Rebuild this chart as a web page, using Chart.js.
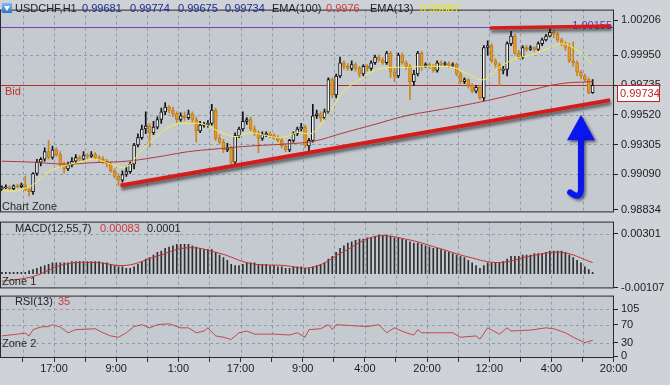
<!DOCTYPE html>
<html><head><meta charset="utf-8">
<script src="https://cdn.jsdelivr.net/npm/chart.js@4.4.0/dist/chart.umd.min.js"></script>
<style>
html,body{margin:0;padding:0;}
body{width:670px;height:385px;background:#cfd3d8;position:relative;overflow:hidden;font-family:"Liberation Sans",Arial,sans-serif;}
canvas{position:absolute;left:0;}
.t{position:absolute;font-size:11px;line-height:12px;white-space:nowrap;color:#1e1e1e;}
</style></head><body>
<canvas id="cMain" width="670" height="222" style="top:0"></canvas>
<canvas id="cMacd" width="670" height="86" style="top:212px"></canvas>
<canvas id="cRsi" width="670" height="99" style="top:286px"></canvas>

<div style="position:absolute;left:2px;top:3px;width:10px;height:10px;background:linear-gradient(#7cbcf2,#2a74cc);"></div>
<div style="position:absolute;left:4px;top:6px;width:0;height:0;border-left:3px solid transparent;border-right:3px solid transparent;border-top:5px solid #fff;"></div>
<div class="t" style="left:15px;top:2px;">USDCHF,H1</div>
<div class="t" style="left:82px;top:2px;color:#1c2a8f;">0.99681</div>
<div class="t" style="left:130px;top:2px;color:#1c2a8f;">0.99774</div>
<div class="t" style="left:178px;top:2px;color:#1c2a8f;">0.99675</div>
<div class="t" style="left:225px;top:2px;color:#1c2a8f;">0.99734</div>
<div class="t" style="left:272px;top:2px;">EMA(100)</div>
<div class="t" style="left:326px;top:2px;color:#d03a3a;">0.9976</div>
<div class="t" style="left:370px;top:2px;">EMA(13)</div>
<div class="t" style="left:420px;top:2px;color:#e6e41c;">0.99887</div>
<div class="t" style="left:5px;top:85px;color:#c03030;">Bid</div>
<div class="t" style="left:2px;top:200px;color:#2a2a2a;">Chart Zone</div>
<div class="t" style="left:15px;top:222px;">MACD(12,55,7)</div>
<div class="t" style="left:100px;top:222px;color:#c83c3c;">0.00083</div>
<div class="t" style="left:147px;top:222px;">0.0001</div>
<div class="t" style="left:2px;top:275px;color:#2a2a2a;">Zone 1</div>
<div class="t" style="left:15px;top:295px;">RSI(13)</div>
<div class="t" style="left:58px;top:295px;color:#c83c3c;">35</div>
<div class="t" style="left:2px;top:337px;color:#2a2a2a;">Zone 2</div>

<script>
// ---------- DATA ----------
const openP = [0.98985,0.98992,0.98999,0.98985,0.99006,0.98999,0.99013,0.98978,0.98964,0.99095,
0.99177,0.99198,0.99253,0.99211,0.99266,0.99232,0.99163,0.99129,0.99157,0.99184,
0.99211,0.99198,0.99225,0.99218,0.99232,0.99211,0.99198,0.99184,0.99163,0.99115,
0.99074,0.99047,0.99088,0.99109,0.99163,0.99301,0.99355,0.99417,0.99438,0.99390,
0.99431,0.99486,0.99541,0.99575,0.99554,0.99527,0.99486,0.99513,0.99499,0.99527,
0.99486,0.99403,0.99445,0.99451,0.99458,0.99554,0.99349,0.99321,0.99266,0.99280,
0.99177,0.99369,0.99417,0.99472,0.99486,0.99417,0.99390,0.99349,0.99376,0.99383,
0.99369,0.99355,0.99335,0.99294,0.99266,0.99335,0.99383,0.99417,0.99431,0.99294,
0.99335,0.99513,0.99527,0.99499,0.99541,0.99774,0.99664,0.99801,0.99897,0.99870,
0.99856,0.99884,0.99856,0.99815,0.99870,0.99856,0.99897,0.99938,0.99918,0.99897,
0.99966,0.99829,0.99801,0.99952,0.99897,0.99870,0.99760,0.99815,0.99966,0.99870,
0.99884,0.99870,0.99842,0.99897,0.99884,0.99890,0.99877,0.99884,0.99815,0.99760,
0.99774,0.99733,0.99691,0.99719,0.99643,1.00007,1.00021,0.99911,0.99884,0.99842,
0.99849,1.00035,1.00089,0.99966,0.99938,1.00007,0.99993,1.00007,0.99993,1.00035,
1.00062,1.00089,1.00117,1.00103,1.00062,1.00035,1.00007,0.99911,0.99897,0.99829,
0.99801,0.99774,0.99681];
const highP = [0.99006,0.99013,0.99006,0.99013,0.99019,0.99026,0.99074,0.98992,0.99102,0.99198,
0.99211,0.99280,0.99335,0.99294,0.99280,0.99253,0.99177,0.99177,0.99211,0.99232,
0.99225,0.99253,0.99239,0.99253,0.99246,0.99225,0.99218,0.99198,0.99177,0.99129,
0.99095,0.99115,0.99143,0.99177,0.99314,0.99383,0.99445,0.99541,0.99458,0.99472,
0.99506,0.99568,0.99609,0.99589,0.99575,0.99541,0.99534,0.99541,0.99554,0.99541,
0.99506,0.99472,0.99465,0.99479,0.99595,0.99568,0.99376,0.99342,0.99314,0.99294,
0.99390,0.99431,0.99541,0.99499,0.99506,0.99438,0.99403,0.99397,0.99397,0.99397,
0.99383,0.99369,0.99349,0.99307,0.99342,0.99397,0.99431,0.99458,0.99445,0.99349,
0.99595,0.99554,0.99541,0.99561,0.99788,0.99788,0.99815,0.99938,0.99911,0.99890,
0.99911,0.99897,0.99870,0.99884,0.99884,0.99911,0.99952,0.99952,0.99932,0.99980,
0.99980,0.99856,0.99966,0.99966,0.99911,0.99884,0.99842,0.99980,0.99980,0.99897,
0.99897,0.99884,0.99911,0.99911,0.99904,0.99904,0.99897,0.99897,0.99829,0.99788,
0.99781,0.99746,0.99733,0.99733,1.00021,1.00055,1.00035,0.99925,0.99897,0.99870,
1.00048,1.00124,1.00103,0.99986,1.00021,1.00021,1.00021,1.00014,1.00048,1.00076,
1.00103,1.00144,1.00131,1.00117,1.00076,1.00048,1.00035,1.00048,0.99911,0.99842,
0.99815,0.99788,0.99774];
const lowP = [0.98971,0.98985,0.98978,0.98978,0.98992,0.98992,0.98971,0.98930,0.98944,0.99081,
0.99150,0.99184,0.99198,0.99198,0.99218,0.99143,0.99095,0.99115,0.99143,0.99170,
0.99184,0.99191,0.99205,0.99211,0.99198,0.99177,0.99170,0.99143,0.99102,0.99060,
0.99006,0.99033,0.99074,0.99095,0.99129,0.99287,0.99342,0.99383,0.99287,0.99376,
0.99417,0.99458,0.99520,0.99534,0.99506,0.99465,0.99472,0.99479,0.99486,0.99465,
0.99321,0.99390,0.99431,0.99431,0.99445,0.99335,0.99307,0.99246,0.99253,0.99150,
0.99163,0.99355,0.99403,0.99451,0.99403,0.99369,0.99246,0.99335,0.99362,0.99355,
0.99342,0.99321,0.99280,0.99253,0.99253,0.99321,0.99369,0.99403,0.99280,0.99253,
0.99321,0.99493,0.99472,0.99486,0.99527,0.99643,0.99643,0.99788,0.99849,0.99842,
0.99842,0.99836,0.99794,0.99801,0.99836,0.99842,0.99884,0.99904,0.99884,0.99884,
0.99788,0.99760,0.99788,0.99884,0.99849,0.99630,0.99733,0.99801,0.99842,0.99863,
0.99856,0.99829,0.99829,0.99870,0.99877,0.99863,0.99870,0.99801,0.99746,0.99746,
0.99712,0.99678,0.99678,0.99630,0.99623,0.99952,0.99897,0.99863,0.99733,0.99815,
0.99801,1.00021,0.99952,0.99925,0.99925,0.99980,0.99986,0.99980,0.99986,1.00021,
1.00055,1.00083,1.00076,1.00048,1.00021,0.99986,0.99897,0.99870,0.99801,0.99781,
0.99760,0.99671,0.99675];
const closeP = [0.98992,0.98999,0.98985,0.99006,0.98999,0.99013,0.98978,0.98964,0.99095,0.99177,
0.99198,0.99253,0.99211,0.99266,0.99232,0.99163,0.99129,0.99157,0.99184,0.99211,
0.99198,0.99225,0.99218,0.99232,0.99211,0.99198,0.99184,0.99163,0.99115,0.99074,
0.99047,0.99088,0.99109,0.99163,0.99301,0.99355,0.99417,0.99438,0.99390,0.99431,
0.99486,0.99541,0.99575,0.99554,0.99527,0.99486,0.99513,0.99499,0.99527,0.99486,
0.99403,0.99445,0.99451,0.99458,0.99554,0.99349,0.99321,0.99266,0.99280,0.99177,
0.99369,0.99417,0.99472,0.99486,0.99417,0.99390,0.99349,0.99376,0.99383,0.99369,
0.99355,0.99335,0.99294,0.99266,0.99335,0.99383,0.99417,0.99431,0.99294,0.99335,
0.99513,0.99527,0.99499,0.99541,0.99774,0.99664,0.99801,0.99897,0.99870,0.99856,
0.99884,0.99856,0.99815,0.99870,0.99856,0.99897,0.99938,0.99918,0.99897,0.99966,
0.99829,0.99801,0.99952,0.99897,0.99870,0.99760,0.99815,0.99966,0.99870,0.99884,
0.99870,0.99842,0.99897,0.99884,0.99890,0.99877,0.99884,0.99815,0.99760,0.99774,
0.99733,0.99691,0.99719,0.99643,1.00007,1.00021,0.99911,0.99884,0.99842,0.99849,
1.00035,1.00089,0.99966,0.99938,1.00007,0.99993,1.00007,0.99993,1.00035,1.00062,
1.00089,1.00117,1.00103,1.00062,1.00035,1.00007,0.99911,0.99897,0.99829,0.99801,
0.99774,0.99681,0.99734];

const ema13Idx = [0,4,8,12,16,20,24,28,32,36,40,44,48,52,56,60,64,68,72,76,80,84,88,92,96,100,104,108,112,116,120,124,128,132,136,140,144,148,152];
const ema13Val = [0.98971,0.98971,0.99013,0.99109,0.99150,0.99177,0.99198,0.99163,0.99143,0.99266,0.99369,0.99445,0.99458,0.99451,0.99397,0.99362,0.99390,0.99369,0.99355,0.99390,0.99390,0.99527,0.99691,0.99774,0.99842,0.99863,0.99863,0.99870,0.99870,0.99863,0.99815,0.99774,0.99863,0.99925,0.99952,0.99993,1.00035,0.99986,0.99887];
const ema100Idx = [0,8,16,24,32,40,48,56,64,72,80,88,96,104,112,120,128,136,144,152];
const ema100Val = [0.99184,0.99177,0.99163,0.99174,0.99184,0.99215,0.99253,0.99275,0.99294,0.99307,0.99328,0.99390,0.99451,0.99513,0.99554,0.99595,0.99643,0.99698,0.99746,0.99760];

const macdHist = [0.0001,0.0001,0.0001,0.0001,0.0001,0.0001,0.0001,0.0002,0.0003,0.0004,
0.0005,0.0006,0.0007,0.0008,0.0008,0.0008,0.0008,0.0008,0.0009,0.0009,
0.0009,0.0009,0.0009,0.0009,0.0009,0.0009,0.0008,0.0008,0.0007,0.0006,
0.0005,0.0005,0.0004,0.0004,0.0005,0.0007,0.0009,0.0011,0.0012,0.0014,
0.0016,0.0017,0.0019,0.0020,0.0021,0.0022,0.0022,0.0022,0.0022,0.0021,
0.0020,0.0019,0.0018,0.0018,0.0018,0.0016,0.0014,0.0012,0.0010,0.0007,
0.0006,0.0006,0.0007,0.0008,0.0008,0.0008,0.0007,0.0007,0.0007,0.0006,
0.0006,0.0005,0.0005,0.0004,0.0004,0.0005,0.0005,0.0005,0.0004,0.0004,
0.0005,0.0006,0.0007,0.0008,0.0011,0.0013,0.0016,0.0019,0.0021,0.0023,
0.0024,0.0025,0.0026,0.0026,0.0027,0.0027,0.0028,0.0029,0.0029,0.0029,
0.0028,0.0027,0.0027,0.0026,0.0025,0.0024,0.0023,0.0023,0.0022,0.0021,
0.0020,0.0019,0.0019,0.0018,0.0017,0.0016,0.0015,0.0014,0.0013,0.0012,
0.0010,0.0008,0.0006,0.0004,0.0006,0.0008,0.0008,0.0008,0.0008,0.0009,
0.0011,0.0013,0.0013,0.0013,0.0014,0.0014,0.0014,0.0015,0.0015,0.0015,
0.0016,0.0017,0.0017,0.0017,0.0017,0.0016,0.0014,0.0012,0.0010,0.0008,
0.0005,0.0003,0.0001];
const macdSigIdx = [0,8,16,24,32,40,48,56,64,72,80,88,96,104,112,120,128,136,144,152];
const macdSigVal = [-0.00058,-0.00022,0.00069,0.00083,0.00062,0.00132,0.00195,0.00153,0.00076,0.00062,0.00048,0.00167,0.00280,0.00259,0.00195,0.00125,0.00083,0.00132,0.00160,0.00083];

const rsiIdx = [0,4,6,7,8,10,12,13,15,17,19,24,26,28,30,32,34,36,38,40,43,46,48,50,52,53,55,57,59,61,63,65,70,74,76,78,79,82,84,85,86,90,94,97,99,101,104,106,107,108,111,116,118,122,123,125,128,130,131,136,140,142,145,147,148,150,152];
const rsiVal = [45,49,51,45,59,65,66,70,65,52,59,61,52,45,42,52,66,70,63,70,72,63,63,52,56,63,45,42,37,52,56,49,49,47,52,42,59,61,70,59,70,68,66,70,52,63,52,47,59,52,52,52,42,45,38,63,49,63,56,58,63,61,52,42,38,30,35];

const mainTicks = [0.98834,0.99090,0.99305,0.99520,0.99735,0.99950,1.00206];
const macdTicks = [-0.00107,0.00301];
const rsiTicks = [0,30,70,105];
const xTickPos = [5.4,13.4,21.4,29.4,37.4,45.4,53.4,61.4,69.4,77.4,85.4,93.4,101.4,109.4,117.4,125.4,133.4,141.4,149.4,157.4];
const xTickLabels = ['','17:00','','9:00','','1:00','','17:00','','9:00','','4:00','','20:00','','12:00','','4:00','','20:00'];

const bidLevel = 0.99734;
const purpleLevel = 1.00155;
const trendLow = [[30.5,0.99008],[156.5,0.99626]];
const trendTop = [[125.6,1.00148],[156.7,1.00163]];
const arrowHead = [[149.0,0.99520],[152.6,0.99335],[145.4,0.99335]];
const arrowShaft = [[149.0,0.99345],[149.0,0.98992],[149.0,0.98896],[146.2,0.98958]];

// ---------- STYLE ----------
const PANEL_BG = '#c4cad0';
const GRID = '#8e9bab';
const BORDER = '#2a2a2a';
const FONT = {family:'"Liberation Sans", Arial, sans-serif', size:11};

const isUp = closeP.map((c,i)=>c>=openP[i]);
const bodyData = closeP.map((c,i)=>({x:i,y:[openP[i],c]}));
const wickData = closeP.map((c,i)=>({x:i,y:[lowP[i],highP[i]]}));
const bodyFill = isUp.map(u=>u?'#f2f2f2':'#e59c2c');
const bodyEdge = isUp.map(u=>u?'#111111':'#c27a16');
const wickCol = isUp.map(u=>u?'#111111':'#c8861e');
const pts = (xs,ys)=>xs.map((x,k)=>({x,y:ys[k]}));

const panelPlugin = {
  id:'panel',
  beforeDraw(chart){
    const {ctx, chartArea:a} = chart;
    ctx.save(); ctx.fillStyle = PANEL_BG;
    ctx.fillRect(a.left,a.top,a.right-a.left,a.bottom-a.top); ctx.restore();
  },
  beforeDatasetsDraw(chart, args, opts){
    const {ctx, chartArea:a, scales} = chart;
    ctx.save();
    ctx.beginPath(); ctx.rect(a.left,a.top,a.right-a.left,a.bottom-a.top); ctx.clip();
    ctx.lineWidth = 1; ctx.setLineDash([3,3]);
    ctx.strokeStyle = GRID;
    xTickPos.forEach(v=>{
      const x = Math.round(scales.x.getPixelForValue(v))+0.5;
      ctx.beginPath(); ctx.moveTo(x,a.top); ctx.lineTo(x,a.bottom); ctx.stroke();
    });
    (opts.gridY||[]).forEach(v=>{
      const y = Math.round(scales.y.getPixelForValue(v))+0.5;
      ctx.beginPath(); ctx.moveTo(a.left,y); ctx.lineTo(a.right,y); ctx.stroke();
    });
    ctx.restore();
  },
  afterDraw(chart){
    const {ctx, chartArea:a} = chart;
    ctx.save(); ctx.strokeStyle = BORDER; ctx.lineWidth = 1;
    ctx.strokeRect(a.left+0.5,a.top+0.5,a.right-a.left-1,a.bottom-a.top-1);
    ctx.restore();
  }
};

function P(chart, p){ return [chart.scales.x.getPixelForValue(p[0]), chart.scales.y.getPixelForValue(p[1])]; }

const mainPlugin = {
  id:'mainDeco',
  beforeDatasetsDraw(chart){
    const {ctx, chartArea:a, scales:{y}} = chart;
    ctx.save();
    ctx.beginPath(); ctx.rect(a.left,a.top,a.right-a.left,a.bottom-a.top); ctx.clip();
    const yp = Math.round(y.getPixelForValue(purpleLevel))+0.5;
    ctx.strokeStyle = '#7a3cc4'; ctx.lineWidth = 1;
    ctx.beginPath(); ctx.moveTo(a.left,yp); ctx.lineTo(a.right,yp); ctx.stroke();
    ctx.fillStyle = '#6a30b8'; ctx.font = '11px "Liberation Sans", Arial';
    ctx.textAlign = 'right'; ctx.textBaseline = 'alphabetic';
    ctx.fillText(purpleLevel.toFixed(5), a.right-2, yp+1);
    const yb = Math.round(y.getPixelForValue(bidLevel))+0.5;
    ctx.strokeStyle = '#b0302c';
    ctx.beginPath(); ctx.moveTo(a.left,yb); ctx.lineTo(a.right,yb); ctx.stroke();
    ctx.restore();
  },
  afterDatasetsDraw(chart){
    const {ctx} = chart;
    const seg = (s, w)=>{
      const p0 = P(chart,s[0]), p1 = P(chart,s[1]);
      ctx.save();
      ctx.shadowColor = 'rgba(25,25,25,0.6)'; ctx.shadowBlur = 3; ctx.shadowOffsetY = 3; ctx.shadowOffsetX = 1;
      ctx.strokeStyle = '#d41c1c'; ctx.lineWidth = w;
      ctx.beginPath(); ctx.moveTo(p0[0],p0[1]); ctx.lineTo(p1[0],p1[1]); ctx.stroke();
      ctx.restore();
    };
    seg(trendLow, 4);
    seg(trendTop, 3.5);
    ctx.save();
    ctx.shadowColor = 'rgba(20,20,40,0.55)'; ctx.shadowBlur = 3; ctx.shadowOffsetX = 2; ctx.shadowOffsetY = 2;
    ctx.fillStyle = '#0a16ee'; ctx.strokeStyle = '#0a16ee';
    const h = arrowHead.map(p=>P(chart,p));
    ctx.beginPath(); ctx.moveTo(h[0][0],h[0][1]); ctx.lineTo(h[1][0],h[1][1]); ctx.lineTo(h[2][0],h[2][1]); ctx.closePath(); ctx.fill();
    const s = arrowShaft.map(p=>P(chart,p));
    ctx.lineWidth = 6; ctx.lineCap = 'round';
    ctx.beginPath(); ctx.moveTo(s[0][0],s[0][1]); ctx.lineTo(s[1][0],s[1][1]);
    ctx.quadraticCurveTo(s[2][0],s[2][1],s[3][0],s[3][1]); ctx.stroke();
    ctx.restore();
  },
  afterDraw(chart){
    const {ctx, chartArea:a, scales:{y}} = chart;
    const yb = Math.round(y.getPixelForValue(bidLevel));
    const bx = a.right+3;
    ctx.save();
    ctx.fillStyle = '#ffffff'; ctx.fillRect(bx, yb, 43, 17);
    ctx.strokeStyle = '#c02424'; ctx.lineWidth = 1; ctx.strokeRect(bx+0.5, yb+0.5, 42, 16);
    ctx.fillStyle = '#c02424'; ctx.font = '11px "Liberation Sans", Arial';
    ctx.textAlign = 'left'; ctx.textBaseline = 'middle';
    ctx.fillText(bidLevel.toFixed(5), bx+3, yb+9);
    ctx.restore();
  }
};

function yAxis(min, max, ticks, fmt){
  return {
    type:'linear', position:'right', min, max,
    afterBuildTicks: s=>{ s.ticks = ticks.map(v=>({value:v})); },
    afterFit: s=>{ s.width = 56; },
    ticks:{callback:fmt, color:'#1a1a1a', font:FONT, padding:3, autoSkip:false},
    grid:{drawOnChartArea:false, tickLength:4, tickColor:'#222', tickWidth:1},
    border:{display:false}
  };
}
const hiddenX = {type:'linear', min:-0.5, max:157.5, offset:false, display:false};
const common = {responsive:false, animation:false, events:[]};

new Chart(document.getElementById('cMain'), {
  type:'bar',
  data:{datasets:[
    {type:'line', data:pts(ema13Idx,ema13Val), borderColor:'#f4f048', borderWidth:1, pointRadius:0, tension:0.4, order:1},
    {type:'line', data:pts(ema100Idx,ema100Val), borderColor:'#b23636', borderWidth:1, pointRadius:0, tension:0.4, order:1},
    {type:'bar', data:bodyData, backgroundColor:bodyFill, borderColor:bodyEdge, borderWidth:1, borderSkipped:false, barThickness:3, minBarLength:1, grouped:false, order:2},
    {type:'bar', data:wickData, backgroundColor:wickCol, barThickness:1, grouped:false, order:3}
  ]},
  options:Object.assign({}, common, {
    layout:{padding:{top:2,bottom:6,left:0,right:0}},
    plugins:{legend:{display:false}, tooltip:{enabled:false}, panel:{gridY:mainTicks.slice(1,-1)}},
    scales:{x:hiddenX, y:yAxis(0.988134, 1.002815, mainTicks, v=>v.toFixed(5))}
  }),
  plugins:[panelPlugin, mainPlugin]
});

new Chart(document.getElementById('cMacd'), {
  type:'bar',
  data:{datasets:[
    {type:'line', data:pts(macdSigIdx,macdSigVal), borderColor:'#c83232', borderWidth:1, pointRadius:0, tension:0.4, order:1},
    {type:'bar', data:pts(macdHist.map((v,i)=>i), macdHist), backgroundColor:'#2e2e2e', barThickness:1, grouped:false, order:2}
  ]},
  options:Object.assign({}, common, {
    layout:{padding:{top:7,bottom:7,left:0,right:0}},
    plugins:{legend:{display:false}, tooltip:{enabled:false}, panel:{gridY:[0.00301]}},
    scales:{x:hiddenX, y:yAxis(-0.00112, 0.00392, macdTicks, v=>v.toFixed(5))}
  }),
  plugins:[panelPlugin]
});

new Chart(document.getElementById('cRsi'), {
  type:'line',
  data:{datasets:[
    {data:pts(rsiIdx,rsiVal), borderColor:'#c24a4a', borderWidth:1, pointRadius:0, tension:0}
  ]},
  options:Object.assign({}, common, {
    layout:{padding:{top:7,bottom:0,left:0,right:0}},
    plugins:{legend:{display:false}, tooltip:{enabled:false}, panel:{gridY:[30,70,105]}},
    scales:{
      x:{type:'linear', min:-0.5, max:157.5, offset:false, position:'bottom',
        afterBuildTicks: s=>{ s.ticks = xTickPos.map(v=>({value:v})); },
        afterFit: s=>{ s.height = 27; },
        ticks:{callback:(v,i)=>xTickLabels[i], color:'#1a1a1a', font:FONT, padding:0, autoSkip:false, maxRotation:0},
        grid:{drawOnChartArea:false, tickLength:4, tickColor:'#333'},
        border:{display:false}},
      y:yAxis(-4.3, 135, rsiTicks, v=>String(v))
    }
  }),
  plugins:[panelPlugin]
});
</script>
</body></html>
